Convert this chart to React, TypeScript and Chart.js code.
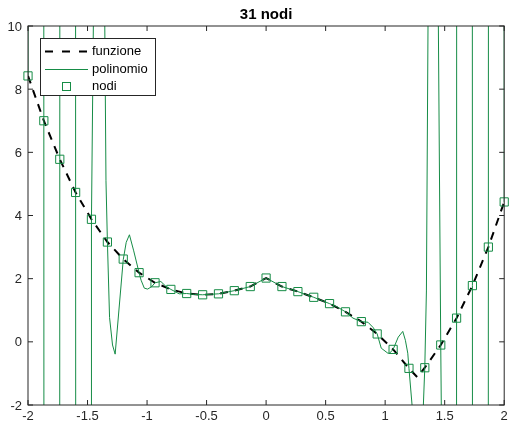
import { useEffect, useRef } from 'react';
import { Chart, registerables } from 'chart.js';
Chart.register(...registerables);

const GREEN = 'rgb(22,140,70)';
const AXIS = '#262626';
const FONT = '"Liberation Sans", Arial, Helvetica, sans-serif';

const titleText = '31 nodi';
const legendLabels = ['funzione', 'polinomio', 'nodi'];
const xTicks = [-2, -1.5, -1, -0.5, 0, 0.5, 1, 1.5, 2];
const yTicks = [-2, 0, 2, 4, 6, 8, 10];

// interpolation nodes
const nodeX = [-2, -1.867, -1.733, -1.6, -1.467, -1.333, -1.2, -1.067, -0.933, -0.8, -0.667, -0.533, -0.4, -0.267, -0.133, 0, 0.133, 0.267, 0.4, 0.533, 0.667, 0.8, 0.933, 1.067, 1.2, 1.333, 1.467, 1.6, 1.733, 1.867, 2];
const nodeY = [8.42, 7.0, 5.78, 4.73, 3.88, 3.16, 2.62, 2.19, 1.87, 1.66, 1.53, 1.49, 1.52, 1.62, 1.75, 2.02, 1.75, 1.59, 1.41, 1.21, 0.95, 0.64, 0.25, -0.24, -0.84, -0.82, -0.1, 0.75, 1.78, 3.0, 4.43];

// function (dashed)
const funcX = [-2, -1.867, -1.733, -1.6, -1.467, -1.333, -1.2, -1.067, -0.933, -0.8, -0.667, -0.533, -0.4, -0.267, -0.133, 0, 0.133, 0.267, 0.4, 0.533, 0.667, 0.8, 0.933, 1.067, 1.2, 1.27, 1.333, 1.467, 1.6, 1.733, 1.867, 2];
const funcY = [8.42, 7.0, 5.78, 4.73, 3.88, 3.16, 2.62, 2.19, 1.87, 1.66, 1.53, 1.49, 1.52, 1.62, 1.75, 2.02, 1.75, 1.59, 1.41, 1.21, 0.95, 0.64, 0.25, -0.24, -0.84, -1.12, -0.82, -0.1, 0.75, 1.78, 3.0, 4.43];

// interpolating polynomial (huge values leave the plot)
const polyX = [-2, -1.933, -1.867, -1.8, -1.733, -1.667, -1.6, -1.533, -1.4685, -1.467, -1.451, -1.43, -1.4, -1.37, -1.355, -1.345, -1.333, -1.315, -1.29, -1.268, -1.2, -1.175, -1.148, -1.112, -1.067, -1.05, -1.023, -0.995, -0.96, -0.933, -0.884, -0.84, -0.8, -0.73, -0.667, -0.6, -0.533, -0.4, -0.267, -0.133, 0, 0.133, 0.267, 0.4, 0.533, 0.6, 0.667, 0.73, 0.8, 0.856, 0.9, 0.933, 0.967, 1.023, 1.037, 1.067, 1.11, 1.148, 1.17, 1.19, 1.2, 1.226, 1.26, 1.3, 1.321, 1.333, 1.3466, 1.36, 1.4, 1.43, 1.447, 1.467, 1.4715, 1.533, 1.6, 1.667, 1.733, 1.8, 1.867, 1.933, 2];
const polyY = [8.42, 10000, 7.0, -10000, 5.78, 10000, 4.73, -3000, -2, 3.88, 10, 40, 60, 35, 10, 5.1, 3.16, 0.77, -0.1, -0.39, 2.6, 3.15, 3.39, 2.88, 2.19, 1.95, 1.7, 1.67, 1.75, 1.87, 1.91, 1.75, 1.66, 1.52, 1.53, 1.5, 1.49, 1.52, 1.62, 1.75, 2.02, 1.75, 1.59, 1.41, 1.21, 1.1, 0.95, 0.75, 0.64, 0.62, 0.45, 0.25, -0.2, -0.36, -0.36, -0.24, 0.15, 0.33, 0.05, -0.36, -0.84, -2, -30, -15, -2, -0.82, 1.61, 10, 50, 40, 10, -0.1, -2, -3000, 0.75, 10000, 1.78, -10000, 3.0, 10000, 4.43];

const overlay = {
  id: 'overlay',
  afterDraw(chart: any) {
    const ctx = chart.ctx as CanvasRenderingContext2D;
    const { left, right, top, bottom } = chart.chartArea;
    const xs = chart.scales.x;
    const ys = chart.scales.y;
    ctx.save();
    // box
    ctx.strokeStyle = AXIS;
    ctx.lineWidth = 1;
    ctx.setLineDash([]);
    ctx.strokeRect(left, top, right - left, bottom - top);
    // ticks
    const tl = 5;
    ctx.beginPath();
    xTicks.forEach((v) => {
      const px = xs.getPixelForValue(v);
      ctx.moveTo(px, bottom); ctx.lineTo(px, bottom - tl);
      ctx.moveTo(px, top); ctx.lineTo(px, top + tl);
    });
    yTicks.forEach((v) => {
      const py = ys.getPixelForValue(v);
      ctx.moveTo(left, py); ctx.lineTo(left + tl, py);
      ctx.moveTo(right, py); ctx.lineTo(right - tl, py);
    });
    ctx.stroke();
    // tick labels
    ctx.fillStyle = AXIS;
    ctx.font = `13px ${FONT}`;
    ctx.textAlign = 'center';
    ctx.textBaseline = 'top';
    xTicks.forEach((v) => {
      ctx.fillText(String(v), xs.getPixelForValue(v), bottom + 5);
    });
    ctx.textAlign = 'right';
    ctx.textBaseline = 'middle';
    yTicks.forEach((v) => {
      ctx.fillText(String(v), left - 6, ys.getPixelForValue(v) + 1);
    });
    // title
    ctx.font = `bold 15px ${FONT}`;
    ctx.textAlign = 'center';
    ctx.textBaseline = 'middle';
    ctx.fillStyle = '#000';
    ctx.fillText(titleText, (left + right) / 2, 15);
    // legend
    const lx = 40, ly = 38, lw = 115, lh = 57;
    ctx.fillStyle = '#fff';
    ctx.fillRect(lx, ly, lw, lh);
    ctx.strokeStyle = AXIS;
    ctx.strokeRect(lx + 0.5, ly + 0.5, lw, lh);
    const rows = [51.5, 69, 86.5];
    // funzione
    ctx.strokeStyle = '#000';
    ctx.lineWidth = 2;
    ctx.setLineDash([8, 9]);
    ctx.beginPath(); ctx.moveTo(45, rows[0]); ctx.lineTo(88, rows[0]); ctx.stroke();
    // polinomio
    ctx.setLineDash([]);
    ctx.strokeStyle = GREEN;
    ctx.lineWidth = 1;
    ctx.beginPath(); ctx.moveTo(45, rows[1] + 0.5); ctx.lineTo(88, rows[1] + 0.5); ctx.stroke();
    // nodi
    ctx.strokeRect(62.5, rows[2] - 4, 8, 8);
    ctx.fillStyle = '#000';
    ctx.font = `13px ${FONT}`;
    ctx.textAlign = 'left';
    ctx.textBaseline = 'middle';
    legendLabels.forEach((t, i) => ctx.fillText(t, 92, rows[i]));
    ctx.restore();
  },
};

export default function App() {
  const ref = useRef<HTMLCanvasElement>(null);
  useEffect(() => {
    document.body.style.margin = '0';
    const chart = new Chart(ref.current!, {
      type: 'scatter',
      data: {
        datasets: [
          {
            label: legendLabels[2],
            data: nodeX.map((x, i) => ({ x, y: nodeY[i] })),
            showLine: false,
            pointStyle: 'rect',
            pointRadius: 5.8,
            borderColor: GREEN,
            backgroundColor: 'rgba(0,0,0,0)',
            borderWidth: 1,
            clip: false,
          } as any,
          {
            label: legendLabels[1],
            data: polyX.map((x, i) => ({ x, y: polyY[i] })),
            showLine: true,
            borderColor: GREEN,
            borderWidth: 1,
            pointRadius: 0,
            tension: 0,
          },
          {
            label: legendLabels[0],
            data: funcX.map((x, i) => ({ x, y: funcY[i] })),
            showLine: true,
            borderColor: '#000',
            borderWidth: 2,
            borderDash: [8, 7],
            pointRadius: 0,
            tension: 0,
          },
        ],
      },
      options: {
        responsive: false,
        animation: false,
        devicePixelRatio: 1,
        events: [],
        layout: { padding: { left: 28, right: 4, top: 26, bottom: 23 } },
        scales: {
          x: { type: 'linear', min: -2, max: 2, display: false },
          y: { type: 'linear', min: -2, max: 10, display: false },
        },
        plugins: { legend: { display: false }, tooltip: { enabled: false }, title: { display: false } },
      },
      plugins: [overlay],
    });
    return () => chart.destroy();
  }, []);
  return <canvas ref={ref} width={511} height={428} style={{ display: 'block' }} />;
}
